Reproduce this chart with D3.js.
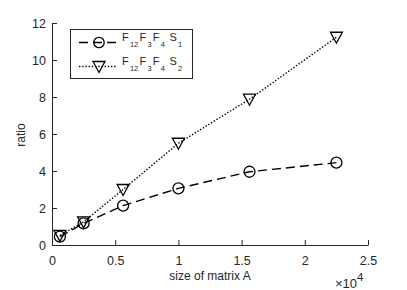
<!DOCTYPE html>
<html>
<head>
<meta charset="utf-8">
<script src="https://cdn.jsdelivr.net/npm/d3@7"></script>
<style>
  body { margin: 0; background: #fff; }
  svg text { font-family: "Liberation Sans", Arial, sans-serif; fill: #262626; }
</style>
</head>
<body>
<svg id="chart" width="407" height="290"></svg>
<script>
// matrix sizes (x 10^4) and the two ratio series
var sizes = [0.0625, 0.25, 0.5625, 1.0, 1.5625, 2.25];
var ratioS1 = [0.45, 1.17, 2.13, 3.06, 3.96, 4.45];
var ratioS2 = [0.52, 1.25, 3.0, 5.5, 7.88, 11.23];
var xTicks = [0, 0.5, 1, 1.5, 2, 2.5];
var yTicks = [0, 2, 4, 6, 8, 10, 12];

var svg = d3.select("#chart");
var axisColor = "#262626";

var x = d3.scaleLinear().domain([0, 2.5]).range([52, 368]);
var y = d3.scaleLinear().domain([0, 12]).range([245, 23]);

// axes, MATLAB style: ticks inward, no box
var gx = svg.append("g").attr("transform", "translate(0,245)")
  .call(d3.axisBottom(x).tickValues(xTicks).tickSizeInner(-5).tickSizeOuter(0).tickPadding(11.5)
    .tickFormat(function(d) { return String(d); }));
var gy = svg.append("g").attr("transform", "translate(52,0)")
  .call(d3.axisLeft(y).tickValues(yTicks).tickSizeInner(-5).tickSizeOuter(0).tickPadding(6));

[gx, gy].forEach(function(g) {
  g.select(".domain").attr("stroke", axisColor).attr("stroke-width", 1);
  g.selectAll(".tick line").attr("stroke", axisColor);
  g.selectAll(".tick text").attr("font-size", 12.5).attr("fill", axisColor)
    .style("font-family", "Liberation Sans, Arial, sans-serif");
});

// axis labels
svg.append("text").attr("x", 210).attr("y", 280).attr("text-anchor", "middle")
  .attr("font-size", 12).text("size of matrix A");
svg.append("text").attr("transform", "translate(25,135) rotate(-90)")
  .attr("text-anchor", "middle").attr("font-size", 12).text("ratio");
var ex = svg.append("text").attr("x", 335).attr("y", 288).attr("font-size", 13);
ex.append("tspan").text("\u00d710");
ex.append("tspan").attr("dy", -7).attr("font-size", 11.5).text("4");

// series lines
var line = d3.line().x(function(d) { return x(d[0]); }).y(function(d) { return y(d[1]); });
var s1 = sizes.map(function(v, i) { return [v, ratioS1[i]]; });
var s2 = sizes.map(function(v, i) { return [v, ratioS2[i]]; });

svg.append("path").datum(s2).attr("d", line).attr("fill", "none")
  .attr("stroke", "#000").attr("stroke-width", 1.4).attr("stroke-dasharray", "1.4,1.8");
svg.append("path").datum(s1).attr("d", line).attr("fill", "none")
  .attr("stroke", "#000").attr("stroke-width", 1.4).attr("stroke-dasharray", "9,5");

// markers
var tri = function(cx, cy) {
  return "M" + (cx - 6) + "," + (cy - 5) + "L" + (cx + 6) + "," + (cy - 5) + "L" + cx + "," + (cy + 6) + "Z";
};
svg.selectAll(".c1").data(s1).enter().append("circle")
  .attr("cx", function(d) { return x(d[0]); }).attr("cy", function(d) { return y(d[1]); })
  .attr("r", 5.5).attr("fill", "none").attr("stroke", "#000").attr("stroke-width", 1.3);
svg.selectAll(".t2").data(s2).enter().append("path")
  .attr("d", function(d) { return tri(x(d[0]), y(d[1])); })
  .attr("fill", "none").attr("stroke", "#000").attr("stroke-width", 1.3);

// legend
var lg = svg.append("g");
lg.append("rect").attr("x", 70.5).attr("y", 29.5).attr("width", 122).attr("height", 49)
  .attr("fill", "#fff").attr("stroke", axisColor).attr("stroke-width", 1);

var rows = [
  { y: 42.5, dash: "9,5", sub: "1", marker: "circle", w: 1.4 },
  { y: 66.5, dash: "1.4,1.8", sub: "2", marker: "tri", w: 1.4 }
];
rows.forEach(function(r) {
  lg.append("line").attr("x1", 79).attr("x2", 117).attr("y1", r.y).attr("y2", r.y)
    .attr("stroke", "#000").attr("stroke-width", r.w).attr("stroke-dasharray", r.dash);
  if (r.marker === "circle") {
    lg.append("circle").attr("cx", 99).attr("cy", r.y).attr("r", 5.2)
      .attr("fill", "none").attr("stroke", "#000").attr("stroke-width", 1.3);
  } else {
    lg.append("path").attr("d", tri(99, r.y)).attr("fill", "none")
      .attr("stroke", "#000").attr("stroke-width", 1.3);
  }
  var t = lg.append("text").attr("x", 122).attr("y", r.y - 1.5).attr("font-size", 11);
  var parts = [["F", "12", 0], ["F", "3", 1.2], ["F", "4", 1.2], ["S", r.sub, 4.5]];
  parts.forEach(function(p, i) {
    t.append("tspan").attr("dx", p[2]).attr("dy", i === 0 ? 0 : -6).text(p[0]);
    t.append("tspan").attr("dx", 1.2).attr("dy", 6).attr("font-size", 7.5).text(p[1]);
  });
});
</script>
</body>
</html>
